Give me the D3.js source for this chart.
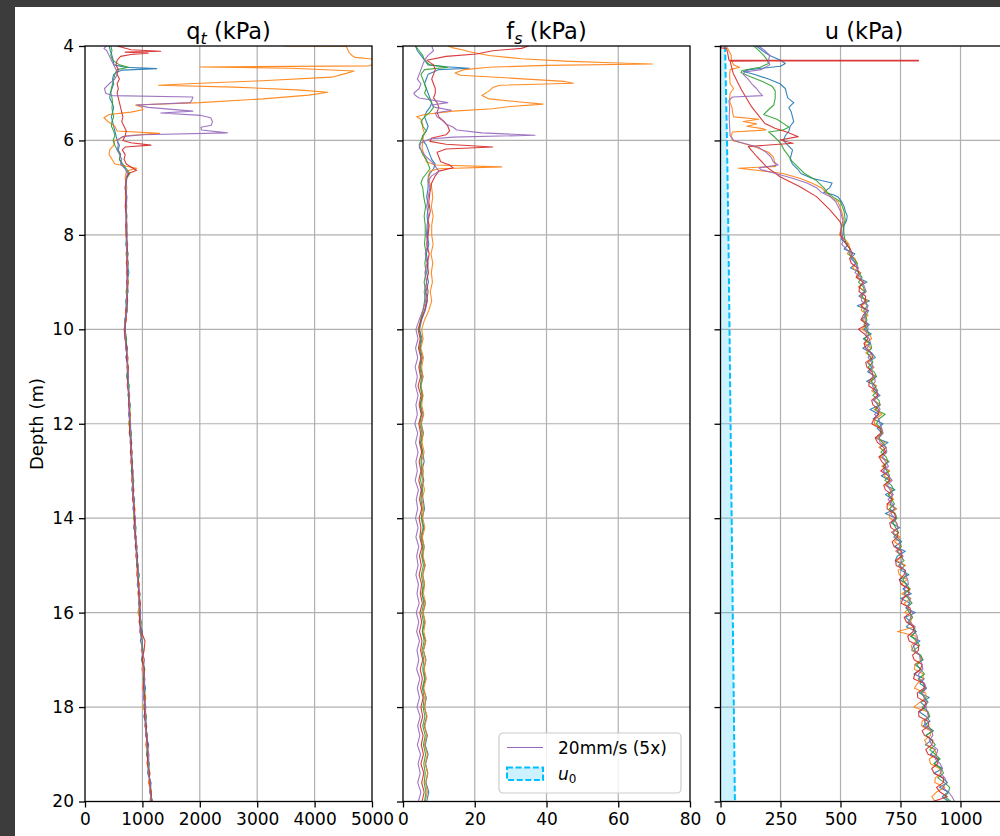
<!DOCTYPE html>
<html>
<head>
<meta charset="utf-8">
<script src="https://cdn.jsdelivr.net/npm/d3@7"></script>
<style>
  body { margin: 0; background: #ffffff; }
  svg { display: block; }
  text { font-family: "DejaVu Sans", sans-serif; fill: #000; }
</style>
</head>
<body>
<svg id="chart" width="1000" height="836"></svg>
<script>
// ---------- CPTu soundings: five repeat profiles per parameter ----------
const seriesColors = ["#1f77b4", "#ff7f0e", "#2ca02c", "#d62728", "#9467bd"];

// Depth grid (m) for the lower part of the qt and fs profiles
const deepDepth = [8,8.2,8.4,8.6,8.8,9,9.2,9.4,9.6,9.8,
  10,10.2,10.4,10.6,10.8,11,11.2,11.4,11.6,11.8,
  12,12.2,12.4,12.6,12.8,13,13.2,13.4,13.6,13.8,
  14,14.2,14.4,14.6,14.8,15,15.2,15.4,15.6,15.8,
  16,16.2,16.4,16.6,16.8,17,17.2,17.4,17.6,17.8,
  18,18.2,18.4,18.6,18.8,19,19.2,19.4,19.6,19.8,20];

// Finer depth grid (m) for the lower part of the pore pressure profiles
const uDeepDepth = [8,8.1,8.2,8.3,8.4,8.5,8.6,8.7,8.8,8.9,
  9,9.1,9.2,9.3,9.4,9.5,9.6,9.7,9.8,9.9,
  10,10.1,10.2,10.3,10.4,10.5,10.6,10.7,10.8,10.9,
  11,11.1,11.2,11.3,11.4,11.5,11.6,11.7,11.8,11.9,
  12,12.1,12.2,12.3,12.4,12.5,12.6,12.7,12.8,12.9,
  13,13.1,13.2,13.3,13.4,13.5,13.6,13.7,13.8,13.9,
  14,14.1,14.2,14.3,14.4,14.5,14.6,14.7,14.8,14.9,
  15,15.1,15.2,15.3,15.4,15.5,15.6,15.7,15.8,15.9,
  16,16.1,16.2,16.3,16.4,16.5,16.6,16.7,16.8,16.9,
  17,17.1,17.2,17.3,17.4,17.5,17.6,17.7,17.8,17.9,
  18,18.1,18.2,18.3,18.4,18.5,18.6,18.7,18.8,18.9,
  19,19.1,19.2,19.3,19.4,19.5,19.6,19.7,19.8,19.9,20];

// ---- cone resistance qt (kPa): upper part as [depth, value] ----
const qtTopBlue = [[4.0,420],[4.1,440],[4.2,470],[4.3,490],[4.4,505],[4.45,700],[4.48,1250],[4.51,650],[4.55,560],[4.6,500],[4.7,480],[4.8,500],[4.9,470],[5.0,440],[5.1,430],[5.2,470],[5.3,500],[5.4,480],[5.5,460],[5.6,480],[5.7,500],[5.8,520],[5.9,540],[6.0,560],[6.1,600],[6.2,580],[6.3,620],[6.4,600],[6.5,640],[6.6,700],[6.7,760],[6.8,720],[7.0,700],[7.2,720],[7.4,705],[7.6,725],[7.8,715]];
const qtTopOrange = [[4.0,3470],[4.005,4550],[4.08,4580],[4.14,4600],[4.2,4650],[4.24,4700],[4.28,5050],[4.36,5080],[4.42,4950],[4.445,2010],[4.47,3600],[4.53,4690],[4.58,4550],[4.66,4300],[4.74,3000],[4.8,1800],[4.83,1280],[4.87,2600],[4.93,3700],[4.98,4230],[5.04,3900],[5.12,3100],[5.2,2000],[5.25,880],[5.29,980],[5.35,1010],[5.4,800],[5.45,420],[5.52,330],[5.6,400],[5.7,520],[5.8,560],[5.85,1300],[5.9,720],[6.0,520],[6.1,500],[6.2,430],[6.3,420],[6.4,470],[6.5,520],[6.59,900],[6.65,720],[6.8,700],[7.0,730],[7.2,705],[7.4,730],[7.6,710],[7.8,735]];
const qtTopGreen = [[4.0,450],[4.1,470],[4.2,450],[4.3,480],[4.4,600],[4.45,760],[4.5,560],[4.6,520],[4.7,500],[4.8,480],[4.9,460],[5.0,450],[5.1,470],[5.2,480],[5.3,470],[5.4,480],[5.5,500],[5.6,470],[5.7,460],[5.8,500],[5.9,520],[6.0,490],[6.1,520],[6.2,560],[6.3,620],[6.4,600],[6.5,660],[6.6,720],[6.7,780],[6.8,730],[7.0,710],[7.2,725],[7.4,715],[7.6,730],[7.8,720]];
const qtTopRed = [[4.0,560],[4.08,800],[4.11,1320],[4.13,700],[4.15,1100],[4.18,800],[4.22,620],[4.3,560],[4.4,540],[4.5,580],[4.6,560],[4.7,600],[4.8,560],[4.9,580],[5.0,560],[5.1,580],[5.2,600],[5.3,620],[5.4,640],[5.5,660],[5.6,640],[5.7,680],[5.8,720],[5.9,700],[6.0,660],[6.05,800],[6.1,1150],[6.14,700],[6.2,650],[6.3,700],[6.4,680],[6.5,720],[6.6,850],[6.63,900],[6.7,760],[6.8,720],[7.0,700],[7.2,715],[7.4,700],[7.6,720],[7.8,710]];
const qtTopPurple = [[4.0,370],[4.05,330],[4.1,380],[4.2,420],[4.3,460],[4.4,500],[4.5,540],[4.6,560],[4.7,520],[4.8,420],[4.9,340],[5.0,360],[5.05,480],[5.08,1880],[5.15,1860],[5.2,1830],[5.25,900],[5.3,1100],[5.38,1880],[5.42,1320],[5.47,2020],[5.52,2190],[5.6,2220],[5.68,2200],[5.72,2020],[5.78,2030],[5.84,2480],[5.88,1000],[5.92,650],[6.0,560],[6.1,580],[6.2,560],[6.3,600],[6.4,640],[6.5,620],[6.6,700],[6.7,740],[6.8,720],[7.0,710],[7.2,730],[7.4,720],[7.6,715],[7.8,730]];
// qt lower part on deepDepth
const qtDeepBlue = [730,710,750,730,765,730,750,710,725,695,705,700,740,715,750,725,765,750,790,760,790,770,815,795,830,805,840,815,865,840,875,850,890,875,920,900,945,910,955,935,970,945,1000,965,1015,985,1040,1015,1055,1020,1060,1025,1075,1060,1110,1070,1115,1090,1150,1130,1175];
const qtDeepOrange = [710,745,715,745,720,760,725,745,705,715,680,720,710,750,725,755,740,780,755,790,760,805,790,825,790,835,820,855,825,870,845,880,860,910,880,925,905,950,920,960,920,980,955,1005,980,1030,990,1045,1010,1060,1010,1070,1040,1090,1055,1105,1080,1135,1105,1155,1130];
const qtDeepGreen = [725,735,720,755,735,750,715,740,735,700,695,725,715,740,745,735,770,755,780,780,770,810,795,815,815,810,850,830,850,855,850,890,875,900,905,900,940,925,950,955,940,980,965,1000,1005,1000,1040,1020,1040,1045,1030,1070,1055,1080,1085,1080,1120,1110,1140,1150,1145];
const qtDeepRed = [715,730,745,720,745,725,740,735,710,720,685,695,730,720,755,750,735,770,760,785,785,775,810,790,820,825,815,845,830,865,865,855,890,880,910,915,905,940,930,965,955,945,980,1045,1030,995,1030,1030,1015,1045,1045,1035,1070,1060,1095,1095,1085,1125,1120,1155,1155];
const qtDeepPurple = [735,720,735,750,725,745,745,715,740,690,700,710,705,745,735,760,745,775,775,765,795,795,785,820,800,840,835,825,855,835,880,875,865,905,890,930,925,915,960,930,965,965,955,995,990,1035,1015,1040,1035,1015,1055,1055,1045,1090,1070,1115,1105,1100,1145,1125,1180];

// ---- sleeve friction fs (kPa) ----
const fsTopBlue = [[4.0,3.5],[4.1,4],[4.2,5],[4.3,6],[4.4,7],[4.44,12],[4.47,18.5],[4.5,10],[4.55,8.5],[4.6,7],[4.7,6.5],[4.8,6],[4.9,6.5],[5.0,7],[5.1,7.5],[5.2,8],[5.3,7.5],[5.4,6.5],[5.5,6],[5.6,6.5],[5.7,7],[5.8,6.5],[5.9,5.5],[6.0,5.5],[6.1,6.5],[6.2,7],[6.3,7.5],[6.4,8],[6.5,9],[6.6,8.5],[6.7,7.5],[6.8,7],[7.0,7],[7.2,6.6],[7.4,7.1],[7.6,6.7],[7.8,7.0]];
const fsTopOrange = [[4.0,12.6],[4.04,14],[4.08,16.5],[4.12,18.5],[4.2,24],[4.27,33],[4.32,45],[4.36,60],[4.38,69.5],[4.41,40],[4.45,24],[4.5,17],[4.57,14.5],[4.62,16],[4.68,30],[4.75,45],[4.79,47.5],[4.83,27],[4.88,25],[4.95,24],[5.05,22],[5.12,24],[5.18,32],[5.23,39],[5.28,30],[5.33,25],[5.38,14],[5.45,6],[5.5,3.8],[5.55,5],[5.65,5.5],[5.75,5.5],[5.85,6],[5.95,5.5],[6.05,5.5],[6.15,5.3],[6.3,5.8],[6.45,6.5],[6.52,9],[6.56,27.5],[6.6,10],[6.65,7.5],[6.75,7],[6.9,7.5],[7.0,8],[7.2,8.3],[7.4,7.9],[7.6,8.4],[7.8,8.0]];
const fsTopGreen = [[4.0,3.5],[4.1,4.5],[4.2,5.5],[4.3,6],[4.4,7.5],[4.45,12.5],[4.5,6],[4.6,5],[4.7,5.5],[4.8,6],[4.9,6.5],[5.0,6],[5.1,7],[5.2,8],[5.3,8.5],[5.4,7.5],[5.5,6],[5.6,5],[5.7,5.5],[5.8,6.5],[5.9,5.5],[6.0,5],[6.1,4.5],[6.2,5],[6.3,5.5],[6.4,6.5],[6.5,7],[6.6,7.5],[6.7,6.5],[6.8,5.5],[6.9,5],[7.0,5.5],[7.2,5.8],[7.4,6.3],[7.6,5.9],[7.8,6.2]];
const fsTopRed = [[4.0,35],[4.05,33],[4.1,25],[4.17,20.5],[4.22,12],[4.3,6.6],[4.4,8.5],[4.5,9],[4.6,8.5],[4.7,8],[4.8,8.5],[4.9,9],[5.0,9],[5.1,8.5],[5.2,9.5],[5.3,10],[5.4,9.5],[5.5,10],[5.6,11.5],[5.7,12.5],[5.8,13],[5.88,12],[5.95,8],[6.02,7.5],[6.08,12],[6.14,25],[6.18,12],[6.25,9.5],[6.35,10],[6.45,10.5],[6.52,13],[6.58,14],[6.65,10],[6.75,9],[6.9,8],[7.1,7.5],[7.3,7.2],[7.5,7.6],[7.7,7.0],[7.8,7.3]];
const fsTopPurple = [[4.0,8],[4.1,8.5],[4.2,7],[4.3,6],[4.4,5.5],[4.5,5],[4.6,4.5],[4.7,4],[4.8,5],[4.9,4.5],[5.0,3],[5.05,3.5],[5.1,4.5],[5.2,12.5],[5.25,8],[5.3,9],[5.36,13.5],[5.42,9],[5.5,9.5],[5.58,11],[5.65,12],[5.72,14],[5.78,15],[5.84,22],[5.89,36.8],[5.93,14],[5.97,7.5],[6.05,5],[6.15,4.5],[6.25,5.5],[6.35,6.5],[6.45,8],[6.55,9],[6.65,10],[6.75,8],[6.85,7],[7.0,7.5],[7.2,7.0],[7.4,6.6],[7.6,7.1],[7.8,6.7]];
const fsDeepBlue = [6.8,7.2,6.5,7.0,6.6,7.1,6.4,6.8,6.2,5.2,4.6,5.3,4.8,5.4,4.9,5.6,5.0,5.5,4.8,5.6,5.1,5.7,5.0,5.5,5.9,5.2,5.8,5.1,5.6,6.0,5.3,5.8,5.2,5.9,5.4,6.1,5.5,6.0,5.3,6.2,5.6,6.1,5.4,6.3,5.7,6.4,5.8,6.2,5.6,6.5,6.0,6.6,5.9,6.8,6.2,7.0,6.3,6.9,6.4,7.2,6.6];
const fsDeepOrange = [8.0,8.4,7.8,8.3,7.9,8.2,7.6,8.0,7.2,6.0,5.2,5.6,5.0,5.7,5.2,5.5,4.9,5.6,5.2,5.8,5.0,5.6,5.3,5.9,5.2,5.7,5.4,6.0,5.3,5.8,5.5,6.1,5.4,5.9,5.6,6.2,5.5,6.0,5.7,6.3,5.6,6.2,5.8,6.4,5.7,6.3,5.9,6.5,5.8,6.4,6.0,6.7,6.1,6.6,6.0,6.8,6.2,6.9,6.3,6.8,6.2];
const fsDeepGreen = [6.2,6.0,6.5,6.1,6.4,5.9,6.3,6.0,5.6,4.9,4.5,5.0,4.6,5.1,4.7,5.2,4.8,5.3,4.9,5.2,4.7,5.3,4.9,5.4,5.0,5.3,4.9,5.5,5.0,5.4,5.1,5.6,5.0,5.5,5.2,5.7,5.1,5.6,5.3,5.8,5.2,5.7,5.4,5.9,5.3,5.8,5.5,6.0,5.4,5.9,5.6,6.1,5.5,6.2,5.7,6.3,5.8,6.2,5.9,6.4,6.0];
const fsDeepRed = [7.0,6.6,7.3,6.8,7.1,6.5,7.0,6.6,6.0,5.0,4.2,4.8,4.3,5.0,4.4,4.9,4.2,5.0,4.5,5.1,4.4,4.9,4.6,5.2,4.5,5.0,4.4,5.1,4.6,5.2,4.5,5.0,4.7,5.3,4.6,5.1,4.5,5.2,4.8,5.4,4.7,5.2,4.6,5.3,4.9,5.5,4.8,5.4,4.9,5.6,5.0,5.5,4.8,5.6,5.1,5.7,5.0,5.8,5.2,5.9,5.3];
const fsDeepPurple = [6.5,6.9,6.2,6.7,6.1,6.6,5.9,6.3,5.5,4.5,3.6,4.2,3.5,4.1,3.4,4.0,3.5,4.2,3.6,4.0,3.3,4.1,3.5,4.2,3.6,4.0,3.4,4.3,3.7,4.1,3.5,4.2,3.6,4.4,3.8,4.2,3.6,4.3,3.9,4.5,3.7,4.4,3.8,4.6,3.9,4.4,3.8,4.7,4.0,4.6,3.9,4.8,4.1,4.7,4.0,4.9,4.2,4.8,4.1,5.0,4.3];

// ---- pore pressure u (kPa) ----
const uTopBlue = [[4.0,150],[4.1,175],[4.2,205],[4.3,250],[4.37,270],[4.43,250],[4.5,120],[4.54,95],[4.6,140],[4.7,200],[4.8,248],[4.9,270],[5.0,275],[5.1,280],[5.2,305],[5.3,285],[5.4,295],[5.5,300],[5.6,305],[5.7,290],[5.8,285],[5.9,270],[6.0,262],[6.1,280],[6.2,300],[6.3,295],[6.4,290],[6.5,300],[6.6,320],[6.7,335],[6.8,380],[6.85,420],[6.9,465],[7.0,455],[7.1,430],[7.15,470],[7.2,490],[7.3,505],[7.4,515],[7.5,520],[7.6,528],[7.7,525],[7.8,515]];
const uTopOrange = [[4.0,25],[4.1,35],[4.2,45],[4.3,45],[4.4,55],[4.45,80],[4.5,40],[4.6,38],[4.8,40],[4.9,55],[5.0,40],[5.1,38],[5.2,40],[5.3,48],[5.4,50],[5.5,55],[5.55,160],[5.6,95],[5.65,150],[5.7,110],[5.75,175],[5.78,190],[5.82,50],[5.9,45],[6.0,50],[6.05,85],[6.15,150],[6.25,200],[6.35,220],[6.45,225],[6.55,230],[6.59,75],[6.63,150],[6.7,260],[6.8,330],[6.9,380],[7.0,420],[7.1,440],[7.2,460],[7.3,490],[7.5,505],[7.7,515],[7.8,508]];
const uTopGreen = [[4.0,140],[4.1,160],[4.2,180],[4.3,195],[4.37,200],[4.45,165],[4.52,90],[4.56,85],[4.65,125],[4.75,175],[4.85,215],[4.95,228],[5.1,228],[5.25,222],[5.35,200],[5.45,180],[5.55,235],[5.65,265],[5.72,285],[5.78,260],[5.82,200],[5.88,215],[6.0,240],[6.1,255],[6.2,265],[6.3,280],[6.45,300],[6.55,320],[6.7,350],[6.85,400],[7.0,430],[7.1,445],[7.2,470],[7.3,500],[7.5,515],[7.7,520],[7.8,512]];
const uTopRed = [[3.98,3],[4.04,3],[4.05,25],[4.15,30],[4.3,35],[4.305,825],[4.315,825],[4.32,40],[4.58,53],[4.93,88],[5.29,130],[5.64,185],[5.74,227],[5.82,276],[5.92,324],[5.99,248],[6.06,303],[6.13,116],[6.34,151],[6.56,192],[6.77,248],[6.98,331],[7.19,400],[7.47,456],[7.72,498],[7.8,505]];
const uTopPurple = [[4.0,160],[4.1,185],[4.2,205],[4.3,200],[4.4,205],[4.5,170],[4.55,100],[4.6,95],[4.7,115],[4.8,130],[4.9,150],[5.0,165],[5.05,175],[5.08,50],[5.15,35],[5.3,38],[5.5,36],[5.7,38],[5.9,40],[6.0,55],[6.05,90],[6.15,160],[6.25,190],[6.35,210],[6.45,220],[6.52,240],[6.58,160],[6.62,170],[6.7,230],[6.8,300],[6.9,360],[7.0,400],[7.1,420],[7.2,460],[7.3,480],[7.5,500],[7.7,510],[7.8,505]];
// u lower part on uDeepDepth
const uDeepBlue = [510,504,532,515,560,543,565,542,585,568,
  610,576,600,577,620,570,617,606,588,620,
  597,628,595,622,593,630,645,612,630,613,
  648,609,648,637,665,636,665,623,660,636,
  677,653,674,646,698,664,683,665,702,677,
  703,670,705,686,727,687,716,706,732,687,
  732,712,747,713,737,755,726,770,737,728,
  767,751,785,746,778,760,795,752,790,772,
  812,771,795,774,816,792,831,805,797,830,
  844,810,836,806,849,831,858,828,870,834,
  857,828,857,873,843,887,857,880,853,895,
  875,910,890,925,890,924,946,912,948,924,950];
const uDeepOrange = [495,520,535,540,528,560,568,550,583,570,
  600,575,605,582,612,590,587,615,595,610,
  590,620,630,600,628,605,632,615,640,620,
  645,625,650,630,655,640,665,640,672,645,
  640,670,677,650,685,660,690,665,698,672,
  705,680,710,685,715,700,722,693,734,705,
  705,735,740,712,748,725,753,730,760,735,
  772,740,745,778,752,790,755,793,765,785,
  767,800,790,810,738,815,816,795,800,830,
  837,810,808,845,844,820,808,855,857,830,
  805,862,867,840,838,875,875,850,860,892,
  900,870,875,912,920,895,893,935,900,880,895];
const uDeepGreen = [515,518,525,540,535,555,570,568,575,590,
  575,595,602,590,603,612,597,605,610,598,
  610,618,600,625,630,612,625,635,615,640,
  650,628,643,655,635,660,665,645,686,660,
  650,668,672,660,675,690,668,690,697,680,
  693,705,685,712,722,700,713,725,704,728,
  735,718,730,742,722,748,753,738,750,765,
  742,768,775,760,773,790,765,782,798,775,
  787,800,780,805,813,795,816,830,805,835,
  842,818,833,850,824,845,853,835,852,865,
  840,865,872,850,863,885,855,880,895,872,
  895,915,890,918,930,905,933,955,950,935,960];
const uDeepRed = [500,510,525,540,550,538,545,570,575,565,
  595,580,577,605,603,585,612,595,585,610,
  575,600,615,598,605,628,635,605,610,632,
  635,620,618,650,655,630,635,660,657,640,
  630,665,667,645,655,680,688,660,672,690,
  668,700,705,680,687,715,713,695,694,725,
  730,705,710,740,737,715,723,755,755,730,
  732,770,765,745,753,785,785,760,753,790,
  792,765,775,805,803,780,786,825,825,800,
  807,840,833,810,804,850,848,820,822,855,
  850,825,827,865,868,840,850,885,880,855,
  865,905,905,880,890,930,928,900,915,945,885];
const uDeepPurple = [505,515,505,525,545,550,560,575,560,585,
  590,600,607,585,588,615,607,598,605,612,
  615,605,620,625,610,628,615,630,635,620,
  640,645,633,650,660,640,655,665,642,660,
  665,672,677,660,665,690,693,675,687,700,
  678,700,715,695,707,720,698,718,724,710,
  725,732,740,720,727,748,748,735,760,755,
  747,765,770,780,783,765,770,790,788,775,
  802,792,785,810,808,820,821,805,810,830,
  832,840,843,825,829,850,858,842,847,860,
  855,862,867,850,853,880,885,870,880,905,
  900,895,915,925,915,935,943,925,950,965,975];

// hydrostatic pore pressure u0
const u0Depth = [4, 6, 8, 12, 16, 20];
const u0Values = [19, 27, 33, 42, 51, 60];

// axis ticks
const depthTicks = [4, 6, 8, 10, 12, 14, 16, 18, 20];
const qtTicks = [0, 1000, 2000, 3000, 4000, 5000];
const fsTicks = [0, 20, 40, 60, 80];
const uTicks = [0, 250, 500, 750, 1000];

// ---------- assemble profiles ----------
function profile(top, depths, deep) {
  return top.concat(depths.map((d, i) => [d, deep[i]]));
}
const qtProfiles = [profile(qtTopBlue, deepDepth, qtDeepBlue), profile(qtTopOrange, deepDepth, qtDeepOrange), profile(qtTopGreen, deepDepth, qtDeepGreen), profile(qtTopRed, deepDepth, qtDeepRed), profile(qtTopPurple, deepDepth, qtDeepPurple)];
const fsProfiles = [profile(fsTopBlue, deepDepth, fsDeepBlue), profile(fsTopOrange, deepDepth, fsDeepOrange), profile(fsTopGreen, deepDepth, fsDeepGreen), profile(fsTopRed, deepDepth, fsDeepRed), profile(fsTopPurple, deepDepth, fsDeepPurple)];
const uProfiles = [profile(uTopBlue, uDeepDepth, uDeepBlue), profile(uTopOrange, uDeepDepth, uDeepOrange), profile(uTopGreen, uDeepDepth, uDeepGreen), profile(uTopRed, uDeepDepth, uDeepRed), profile(uTopPurple, uDeepDepth, uDeepPurple)];

// ---------- drawing ----------
const svg = d3.select("#chart");
svg.append("rect").attr("width", 1000).attr("height", 836).attr("fill", "#ffffff");
// window frame
svg.append("rect").attr("x", 0).attr("y", 0).attr("width", 1000).attr("height", 7).attr("fill", "#3c3c3c");
svg.append("rect").attr("x", 0).attr("y", 0).attr("width", 15).attr("height", 836).attr("fill", "#3c3c3c");

const plotTop = 46, plotBottom = 801.5;
const y = d3.scaleLinear().domain([4, 20]).range([plotTop, plotBottom]);

const panels = [
  { id: "qt", x0: 85, x1: 372, domain: [0, 5000], ticks: qtTicks, main: "q", sub: "t", data: qtProfiles, yLabels: true },
  { id: "fs", x0: 403, x1: 690, domain: [0, 80], ticks: fsTicks, main: "f", sub: "s", data: fsProfiles, yLabels: false },
  { id: "u", x0: 720.5, x1: 1008.5, domain: [0, 1200], ticks: uTicks, main: "u", sub: null, data: uProfiles, yLabels: false, u0: true }
];

const gridColor = "#b0b0b0";
const tickFont = 17;

panels.forEach(p => {
  const x = d3.scaleLinear().domain(p.domain).range([p.x0, p.x1]);
  const g = svg.append("g");

  g.append("clipPath").attr("id", "clip-" + p.id)
    .append("rect").attr("x", p.x0).attr("y", plotTop).attr("width", p.x1 - p.x0).attr("height", plotBottom - plotTop);

  // grid
  const grid = g.append("g");
  grid.selectAll("line.gx").data(p.ticks.filter(t => t > p.domain[0] && t < p.domain[1])).join("line")
    .attr("x1", d => x(d)).attr("x2", d => x(d)).attr("y1", plotTop).attr("y2", plotBottom)
    .attr("stroke", gridColor).attr("stroke-width", 1.2);
  grid.selectAll("line.gy").data(depthTicks.slice(1, -1)).join("line")
    .attr("x1", p.x0).attr("x2", p.x1).attr("y1", d => y(d)).attr("y2", d => y(d))
    .attr("stroke", gridColor).attr("stroke-width", 1.2);

  const plot = g.append("g").attr("clip-path", "url(#clip-" + p.id + ")");

  if (p.u0) {
    const u0 = u0Depth.map((d, i) => [d, u0Values[i]]);
    const area = d3.area().x0(x(0)).x1(d => x(d[1])).y(d => y(d[0]));
    plot.append("path").datum(u0).attr("d", area).attr("fill", "#00bfff").attr("fill-opacity", 0.2);
    plot.append("path").datum(u0)
      .attr("d", d3.line().x(d => x(d[1])).y(d => y(d[0])))
      .attr("fill", "none").attr("stroke", "#00bfff").attr("stroke-width", 2)
      .attr("stroke-dasharray", "6,2.6");
  }

  const line = d3.line().x(d => x(d[1])).y(d => y(d[0]));
  p.data.forEach((s, i) => {
    plot.append("path").datum(s).attr("d", line)
      .attr("fill", "none").attr("stroke", seriesColors[i])
      .attr("stroke-width", 1.1).attr("stroke-opacity", 0.9)
      .attr("stroke-linejoin", "round");
  });

  // frame
  g.append("rect").attr("x", p.x0).attr("y", plotTop).attr("width", p.x1 - p.x0).attr("height", plotBottom - plotTop)
    .attr("fill", "none").attr("stroke", "#000").attr("stroke-width", 1.3);

  // x axis
  const xAxis = d3.axisBottom(x).tickValues(p.ticks).tickSize(6).tickPadding(5).tickFormat(d3.format("d"));
  const xa = g.append("g").attr("transform", `translate(0,${plotBottom})`).call(xAxis);
  xa.select(".domain").remove();
  xa.selectAll(".tick line").attr("stroke", "#000").attr("stroke-width", 1.3);
  xa.selectAll(".tick text").attr("font-size", tickFont).attr("font-family", "DejaVu Sans").attr("fill", "#000");

  // y axis
  const yAxis = d3.axisLeft(y).tickValues(depthTicks).tickSize(6).tickPadding(5)
    .tickFormat(p.yLabels ? d3.format("d") : () => "");
  const ya = g.append("g").attr("transform", `translate(${p.x0},0)`).call(yAxis);
  ya.select(".domain").remove();
  ya.selectAll(".tick line").attr("stroke", "#000").attr("stroke-width", 1.3);
  ya.selectAll(".tick text").attr("font-size", tickFont).attr("font-family", "DejaVu Sans").attr("fill", "#000");

  // title
  const t = svg.append("text").attr("x", (p.x0 + Math.min(p.x1, 1007.5)) / 2).attr("y", 39)
    .attr("text-anchor", "middle").attr("font-size", 22.5);
  t.append("tspan").text(p.main);
  if (p.sub) {
    t.append("tspan").attr("font-style", "italic").attr("font-size", 16).attr("dy", 4.5).text(p.sub);
    t.append("tspan").attr("dy", -4.5).text(" (kPa)");
  } else {
    t.append("tspan").text(" (kPa)");
  }
});

// y axis label
svg.append("text").attr("transform", "translate(43,424) rotate(-90)")
  .attr("text-anchor", "middle").attr("font-size", 18).text("Depth (m)");

// legend in the fs panel
const lg = svg.append("g").attr("transform", "translate(499,733)");
lg.append("rect").attr("width", 182).attr("height", 60).attr("rx", 4)
  .attr("fill", "#ffffff").attr("fill-opacity", 0.8).attr("stroke", "#cccccc").attr("stroke-width", 1.2);
lg.append("line").attr("x1", 8).attr("x2", 44).attr("y1", 14.5).attr("y2", 14.5)
  .attr("stroke", seriesColors[4]).attr("stroke-width", 1.1);
lg.append("text").attr("x", 59).attr("y", 20.5).attr("font-size", 17).text("20mm/s (5x)");
lg.append("rect").attr("x", 8).attr("y", 34.5).attr("width", 36).attr("height", 12.5)
  .attr("fill", "#00bfff").attr("fill-opacity", 0.2);
lg.append("rect").attr("x", 8).attr("y", 34.5).attr("width", 36).attr("height", 12.5)
  .attr("fill", "none").attr("stroke", "#00bfff").attr("stroke-width", 2).attr("stroke-dasharray", "6,2.6");
const u0t = lg.append("text").attr("x", 59).attr("y", 47).attr("font-size", 17);
u0t.append("tspan").attr("font-style", "italic").text("u");
u0t.append("tspan").attr("font-size", 12).attr("dy", 3).text("0");
</script>
</body>
</html>
